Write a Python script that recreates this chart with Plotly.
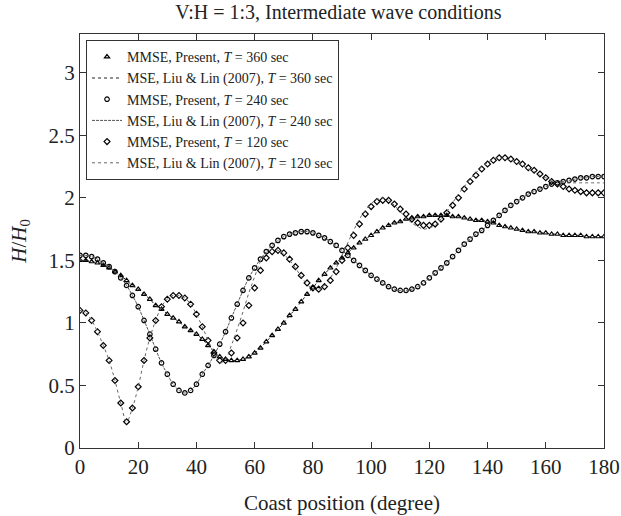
import plotly.graph_objects as go

deg = list(range(0, 181, 2))

# T = 360 sec (MMSE, present)
mmse_360 = [1.50, 1.50, 1.49, 1.48, 1.46, 1.44, 1.41, 1.38, 1.34, 1.30,
            1.27, 1.23, 1.19, 1.14, 1.11, 1.07, 1.04, 1.01, 0.97, 0.94,
            0.91, 0.87, 0.82, 0.77, 0.73, 0.71, 0.70, 0.70, 0.71, 0.73,
            0.76, 0.80, 0.85, 0.90, 0.95, 1.00, 1.06, 1.11, 1.17, 1.23,
            1.28, 1.34, 1.39, 1.44, 1.48, 1.52, 1.56, 1.60, 1.64, 1.67,
            1.70, 1.73, 1.76, 1.78, 1.80, 1.81, 1.83, 1.84, 1.85, 1.85,
            1.86, 1.86, 1.86, 1.86, 1.85, 1.85, 1.84, 1.83, 1.82, 1.82,
            1.81, 1.80, 1.78, 1.77, 1.76, 1.75, 1.74, 1.73, 1.73, 1.72,
            1.72, 1.71, 1.71, 1.70, 1.70, 1.70, 1.70, 1.69, 1.69, 1.69,
            1.69]
mse_360 = [1.50, 1.50, 1.49, 1.48, 1.46, 1.44, 1.41, 1.38, 1.34, 1.30,
           1.27, 1.23, 1.19, 1.14, 1.11, 1.07, 1.04, 1.01, 0.97, 0.94,
           0.91, 0.87, 0.82, 0.77, 0.73, 0.71, 0.70, 0.70, 0.71, 0.73,
           0.76, 0.80, 0.85, 0.90, 0.95, 1.00, 1.06, 1.11, 1.17, 1.23,
           1.28, 1.34, 1.39, 1.44, 1.48, 1.52, 1.56, 1.60, 1.64, 1.67,
           1.70, 1.73, 1.76, 1.78, 1.80, 1.81, 1.83, 1.84, 1.85, 1.85,
           1.86, 1.86, 1.86, 1.86, 1.85, 1.85, 1.84, 1.83, 1.82, 1.82,
           1.81, 1.80, 1.78, 1.77, 1.76, 1.75, 1.74, 1.73, 1.73, 1.72,
           1.72, 1.71, 1.71, 1.70, 1.70, 1.70, 1.70, 1.69, 1.69, 1.69,
           1.69]

# T = 240 sec
mmse_240 = [1.54, 1.54, 1.53, 1.51, 1.48, 1.45, 1.41, 1.36, 1.30, 1.22,
            1.13, 1.02, 0.91, 0.79, 0.68, 0.59, 0.51, 0.46, 0.44, 0.46,
            0.51, 0.59, 0.66, 0.74, 0.83, 0.93, 1.04, 1.15, 1.26, 1.36,
            1.44, 1.51, 1.57, 1.62, 1.66, 1.69, 1.71, 1.72, 1.73, 1.73,
            1.72, 1.70, 1.68, 1.65, 1.62, 1.58, 1.54, 1.50, 1.46, 1.42,
            1.38, 1.35, 1.32, 1.29, 1.27, 1.26, 1.26, 1.27, 1.29, 1.32,
            1.36, 1.40, 1.44, 1.48, 1.53, 1.58, 1.63, 1.67, 1.71, 1.74,
            1.78, 1.82, 1.86, 1.90, 1.94, 1.97, 2.00, 2.03, 2.05, 2.07,
            2.09, 2.11, 2.12, 2.13, 2.14, 2.15, 2.16, 2.16, 2.17, 2.17,
            2.17]
mse_240 = [1.54, 1.54, 1.53, 1.51, 1.48, 1.45, 1.41, 1.36, 1.30, 1.22,
           1.13, 1.02, 0.91, 0.79, 0.68, 0.59, 0.51, 0.46, 0.44, 0.46,
           0.51, 0.59, 0.66, 0.74, 0.83, 0.93, 1.04, 1.15, 1.26, 1.36,
           1.44, 1.51, 1.57, 1.62, 1.66, 1.69, 1.71, 1.72, 1.73, 1.73,
           1.72, 1.70, 1.68, 1.65, 1.62, 1.58, 1.54, 1.50, 1.46, 1.42,
           1.38, 1.35, 1.32, 1.29, 1.27, 1.26, 1.26, 1.27, 1.29, 1.32,
           1.36, 1.40, 1.44, 1.48, 1.53, 1.58, 1.63, 1.67, 1.71, 1.74,
           1.78, 1.82, 1.86, 1.90, 1.94, 1.97, 2.00, 2.03, 2.05, 2.07,
           2.09, 2.11, 2.12, 2.13, 2.14, 2.15, 2.16, 2.16, 2.17, 2.17,
           2.17]

# T = 120 sec
mmse_120 = [1.10, 1.08, 1.02, 0.93, 0.82, 0.70, 0.54, 0.36, 0.21, 0.32,
            0.49, 0.70, 0.88, 1.02, 1.13, 1.19, 1.22, 1.22, 1.20, 1.15,
            1.07, 0.97, 0.86, 0.76, 0.70, 0.70, 0.76, 0.88, 1.00, 1.14,
            1.28, 1.42, 1.52, 1.57, 1.58, 1.56, 1.51, 1.45, 1.38, 1.32,
            1.28, 1.27, 1.29, 1.34, 1.41, 1.50, 1.60, 1.70, 1.79, 1.87,
            1.93, 1.97, 1.98, 1.98, 1.95, 1.91, 1.87, 1.83, 1.80, 1.78,
            1.78, 1.79, 1.83, 1.88, 1.94, 2.00, 2.07, 2.13, 2.18, 2.23,
            2.27, 2.30, 2.32, 2.32, 2.31, 2.29, 2.27, 2.24, 2.22, 2.19,
            2.16, 2.13, 2.11, 2.09, 2.07, 2.06, 2.05, 2.04, 2.04, 2.04,
            2.04]
mse_120 = [1.10, 1.08, 1.02, 0.93, 0.82, 0.70, 0.54, 0.36, 0.21, 0.32,
           0.49, 0.70, 0.88, 1.02, 1.13, 1.19, 1.22, 1.22, 1.20, 1.15,
           1.07, 0.97, 0.86, 0.76, 0.68, 0.71, 0.82, 0.95, 1.09, 1.24,
           1.37, 1.49, 1.56, 1.59, 1.58, 1.55, 1.50, 1.44, 1.37, 1.31,
           1.27, 1.27, 1.30, 1.36, 1.44, 1.54, 1.64, 1.74, 1.83, 1.90,
           1.95, 1.99, 2.00, 1.98, 1.94, 1.89, 1.84, 1.80, 1.77, 1.75,
           1.76, 1.78, 1.83, 1.89, 1.96, 2.03, 2.09, 2.15, 2.20, 2.25,
           2.28, 2.31, 2.32, 2.31, 2.30, 2.28, 2.26, 2.23, 2.21, 2.18,
           2.16, 2.14, 2.13, 2.12, 2.12, 2.12, 2.12, 2.12, 2.12, 2.12,
           2.12]

x_ticks = list(range(0, 181, 20))
y_ticks = [0, 0.5, 1, 1.5, 2, 2.5, 3]

font = "Liberation Serif, Times New Roman, serif"

fig = go.Figure()
fig.add_trace(go.Scatter(x=deg, y=mmse_360, mode="markers",
                         name="MMSE, Present, <i>T</i> = 360 sec",
                         marker=dict(symbol="triangle-up-open", size=4.5, color="black",
                                     line=dict(width=1.2, color="black"))))
fig.add_trace(go.Scatter(x=deg, y=mse_360, mode="lines",
                         name="MSE, Liu &amp; Lin (2007), <i>T</i> = 360 sec",
                         line=dict(color="#222222", width=1, dash="dot", shape="spline")))
fig.add_trace(go.Scatter(x=deg, y=mmse_240, mode="markers",
                         name="MMSE, Present, <i>T</i> = 240 sec",
                         marker=dict(symbol="circle-open", size=4.5, color="black",
                                     line=dict(width=1.2, color="#111111"))))
fig.add_trace(go.Scatter(x=deg, y=mse_240, mode="lines",
                         name="MSE, Liu &amp; Lin (2007), <i>T</i> = 240 sec",
                         line=dict(color="#555555", width=1, dash="3px,1px", shape="spline")))
fig.add_trace(go.Scatter(x=deg, y=mmse_120, mode="markers",
                         name="MMSE, Present, <i>T</i> = 120 sec",
                         marker=dict(symbol="diamond-open", size=4.5, color="black",
                                     line=dict(width=1.2, color="#222222"))))
fig.add_trace(go.Scatter(x=deg, y=mse_120, mode="lines",
                         name="MSE, Liu &amp; Lin (2007), <i>T</i> = 120 sec",
                         line=dict(color="#666666", width=1, dash="dot", shape="spline")))

axis_common = dict(showgrid=False, zeroline=False, showline=True, linecolor="#333333",
                   linewidth=1, mirror="ticks", ticks="inside", ticklen=6, automargin=False,
                   tickcolor="#333333", tickfont=dict(family=font, size=21, color="#222222"))

fig.update_layout(
    width=621, height=516,
    margin=dict(l=80, r=17, t=34, b=68),
    paper_bgcolor="white", plot_bgcolor="white",
    font=dict(family=font, color="#222222"),
    title=dict(text="V:H = 1:3, Intermediate wave conditions", x=0.545, xanchor="center",
               y=0.976, yanchor="middle", font=dict(family=font, size=20, color="#222222")),
    xaxis=dict(range=[0, 180], tickvals=x_ticks, **axis_common),
    yaxis=dict(range=[0, 3.31], tickvals=y_ticks, **axis_common),
    legend=dict(x=0.0115, y=0.985, xanchor="left", yanchor="top",
                bgcolor="white", bordercolor="#333333", borderwidth=1,
                font=dict(family=font, size=14, color="#222222"),
                tracegroupgap=0, itemwidth=30),
    showlegend=True,
    annotations=[
        dict(text="Coast position (degree)", xref="paper", yref="paper",
             x=0.5, y=-0.133, xanchor="center", yanchor="middle", showarrow=False,
             font=dict(family=font, size=21, color="#222222")),
        dict(text="<i>H</i>/<i>H</i><sub>0</sub>", xref="paper", yref="paper",
             x=-0.115, y=0.5, xanchor="center", yanchor="middle", showarrow=False,
             textangle=-90, font=dict(family=font, size=21, color="#222222")),
    ],
)

fig.write_html("out.html")
